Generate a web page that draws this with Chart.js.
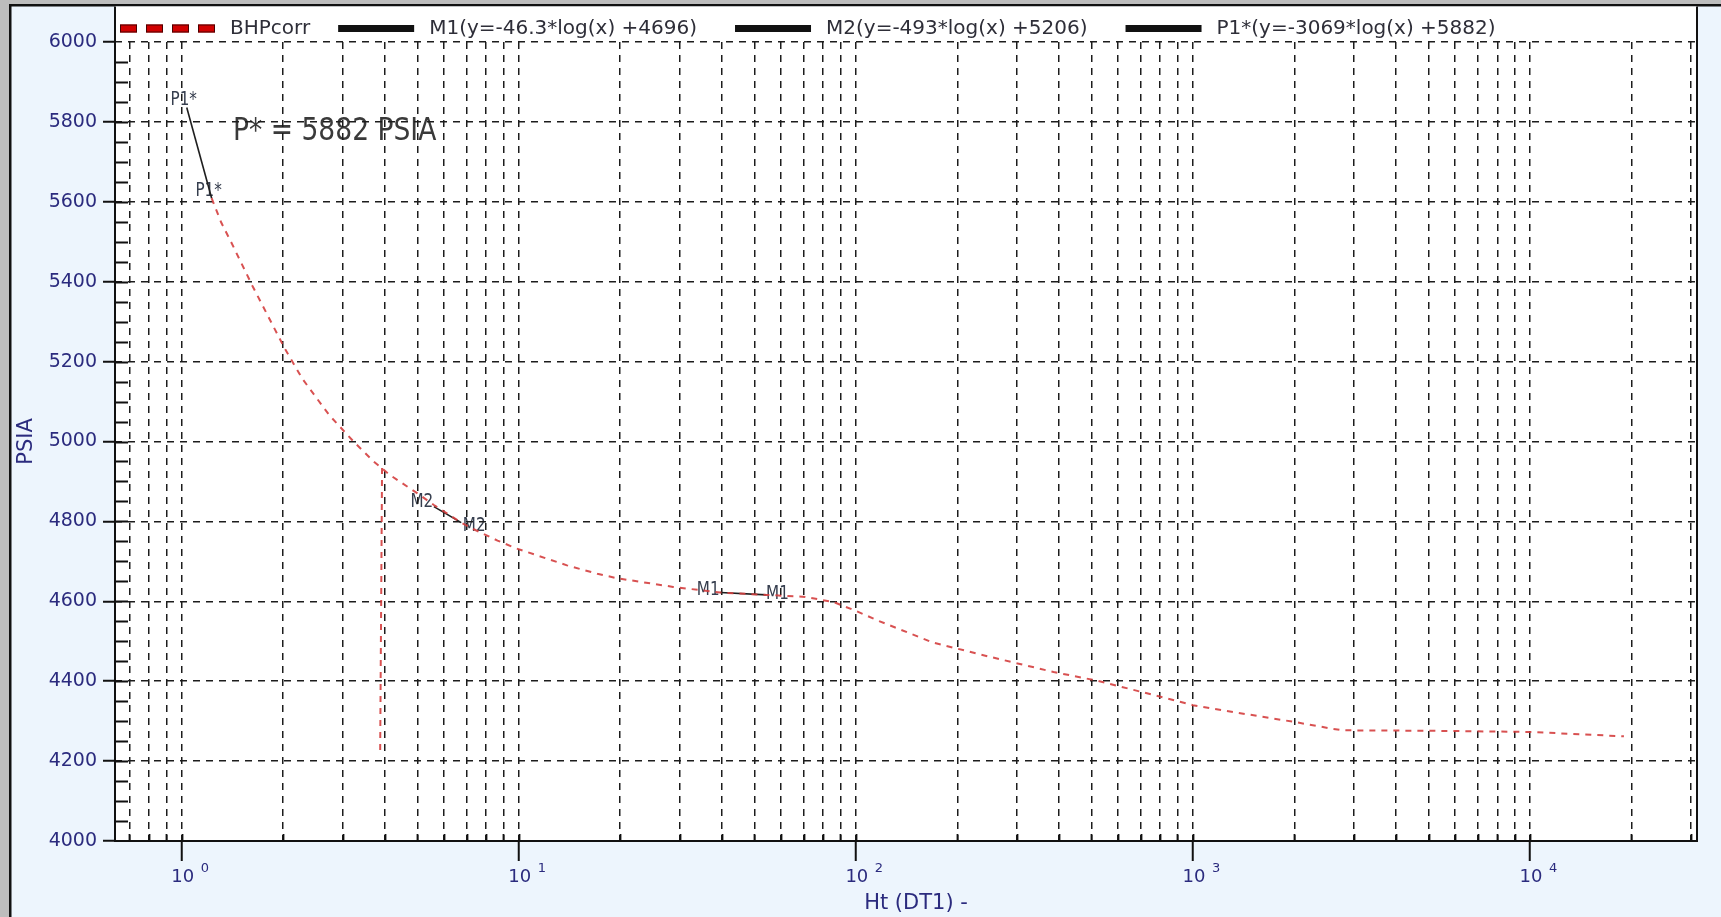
<!DOCTYPE html>
<html>
<head>
<meta charset="utf-8">
<title>Horner plot - BHPcorr</title>
<script src="https://cdn.jsdelivr.net/npm/chart.js@4/dist/chart.umd.min.js"></script>
<style>
  html, body { margin: 0; padding: 0; background: #edf5fd; overflow: hidden; }
  canvas { display: block; }
</style>
</head>
<body>
<canvas id="chart" width="1721" height="917"></canvas>
<script>
// Corrected bottom-hole pressure against Horner time (Ht)
const bhpHt   = [1.227, 1.31, 1.40, 1.62, 2.03, 2.28, 2.74, 3.25, 3.70, 3.95, 4.15, 5.13, 5.6, 6.75, 7.33, 8.65, 9.86, 13.9, 17.1, 19.5, 28.7, 39.6, 54.3, 70.8, 86, 100, 116, 169, 247, 386, 522, 760, 1000, 1228, 2000, 2590, 2800, 5000, 10000, 19000];
const bhpPsia = [5609, 5548, 5500, 5390, 5230, 5157, 5066, 4998, 4951, 4931, 4916, 4864, 4841, 4797, 4781, 4752, 4732, 4690, 4669, 4658, 4636, 4622, 4616, 4611, 4598, 4576, 4552, 4497, 4462, 4423, 4401, 4366, 4340, 4327, 4298, 4281, 4277, 4276, 4273, 4262];

// Pressure jump at the start of the shut-in
const shutInHt   = [3.88, 3.93];
const shutInPsia = [4228, 4935];

// Semi-log straight-line fits (end points of each drawn segment)
const m1Ht   = [39.6, 54.3];
const m1Psia = [4622, 4616];
const m2Ht   = [5.6, 6.75];
const m2Psia = [4837, 4797];
const p1Ht   = [1.035, 1.227];
const p1Psia = [5836, 5609];

const fitNames      = ['M1', 'M2', 'P1*'];
const fitSlopes     = [-46.3, -493, -3069];
const fitIntercepts = [4696, 5206, 5882];

// Axis ticks
const yTickValues      = [4000, 4200, 4400, 4600, 4800, 5000, 5200, 5400, 5600, 5800, 6000];
const xDecadeExponents = [0, 1, 2, 3, 4];
const xGridMultipliers = [1, 2, 3, 4, 5, 6, 7, 8, 9];
const xMin = 0.634, xMax = 31300;

// ---- styling ----
const FONT  = "'DejaVu Sans', sans-serif";
const NAVY  = '#2b2b7e';
const PANEL = '#edf5fd';
const GRID  = '#1c1c1c';
const INK   = '#111111';

const pStar = fitIntercepts[2];

const toPts = (xs, ys) => xs.map((x, i) => ({ x: x, y: ys[i] }));
const fitLabel = i => fitNames[i] + '(y=' + fitSlopes[i] + '*log(x) +' + fitIntercepts[i] + ')';
const isDecade = v => v > 0 && Math.abs(Math.log10(v) - Math.round(Math.log10(v))) < 1e-9;

const xGridValues = [];
for (let e = -1; e <= 4; e++) {
  xGridMultipliers.forEach(m => {
    const v = m * Math.pow(10, e);
    if (v >= xMin && v <= xMax) xGridValues.push(v);
  });
}

// label placement around each fit segment end (pixel offsets of the text centre)
const endLabelOffsets = {
  'M1':  [[-12, -2], [11, -1]],
  'M2':  [[-12, -5], [13, 3]],
  'P1*': [[-3, -7], [-3, -7]]
};
const legendGaps = [28, 38, 38, 0];

function drawScaledText(ctx, text, cx, cy, size, sx, color) {
  ctx.save();
  ctx.font = size + 'px ' + FONT;
  ctx.fillStyle = color;
  ctx.textAlign = 'center';
  ctx.textBaseline = 'middle';
  ctx.translate(cx, cy);
  ctx.scale(sx, 1);
  ctx.fillText(text, 0, 0);
  ctx.restore();
}

const framePlugin = {
  id: 'frame',
  beforeDraw(chart) {
    const { ctx, chartArea: a, width, height } = chart;
    const xs = chart.scales.x, ys = chart.scales.y;
    ctx.save();
    // window panel and edges
    ctx.fillStyle = PANEL;
    ctx.fillRect(0, 0, width, height);
    ctx.fillStyle = '#bdbdbd';
    ctx.fillRect(0, 0, width, 4);
    ctx.fillRect(0, 0, 9, height);
    ctx.fillStyle = INK;
    ctx.fillRect(9, 4, width - 9, 2.5);
    ctx.fillRect(9, 4, 2.5, height - 4);
    // white plotting box (extends above the top tick to hold the legend)
    ctx.fillStyle = '#ffffff';
    ctx.fillRect(a.left, 6.5, a.right - a.left, a.bottom - 6.5);

    // P* annotation
    ctx.save();
    ctx.font = '32px ' + FONT;
    ctx.fillStyle = '#3a3a3a';
    ctx.textAlign = 'left';
    ctx.textBaseline = 'alphabetic';
    ctx.translate(a.left + 118, a.top + 98);
    ctx.scale(0.83, 1);
    ctx.fillText('P* = ' + pStar + ' PSIA', 0, 0);
    ctx.restore();

    // names at both ends of every fit segment
    chart.data.datasets.forEach(ds => {
      if (!ds.fitName) return;
      const offs = endLabelOffsets[ds.fitName];
      [0, ds.data.length - 1].forEach((idx, k) => {
        const p = ds.data[idx];
        const px = xs.getPixelForValue(p.x), py = ys.getPixelForValue(p.y);
        drawScaledText(ctx, ds.fitName, px + offs[k][0], py + offs[k][1], 19, 0.8, '#363e4e');
      });
    });
    ctx.restore();
  },
  afterDraw(chart) {
    const { ctx, chartArea: a } = chart;
    const xs = chart.scales.x, ys = chart.scales.y;
    ctx.save();
    ctx.strokeStyle = INK;
    ctx.lineWidth = 2;
    ctx.beginPath();
    ctx.moveTo(a.left, 6.5); ctx.lineTo(a.left, a.bottom + 1);
    ctx.moveTo(a.left - 1, a.bottom); ctx.lineTo(a.right + 1, a.bottom);
    ctx.moveTo(a.right, 6.5); ctx.lineTo(a.right, a.bottom + 1);
    ctx.stroke();

    // inner minor ticks
    ctx.lineWidth = 1.8;
    ctx.beginPath();
    for (let v = yTickValues[0] + 50; v < yTickValues[yTickValues.length - 1]; v += 50) {
      const py = Math.round(ys.getPixelForValue(v)) + 0.5;
      ctx.moveTo(a.left, py); ctx.lineTo(a.left + 13, py);
    }
    xGridValues.forEach(v => {
      const px = Math.round(xs.getPixelForValue(v)) + 0.5;
      ctx.moveTo(px, a.bottom); ctx.lineTo(px, a.bottom - 7);
    });
    ctx.stroke();

    // decade labels 10^n
    ctx.fillStyle = NAVY;
    ctx.textBaseline = 'alphabetic';
    xDecadeExponents.forEach(e => {
      const px = xs.getPixelForValue(Math.pow(10, e));
      ctx.font = '18px ' + FONT;
      ctx.textAlign = 'center';
      ctx.fillText('10', px + 1, a.bottom + 41);
      ctx.font = '13px ' + FONT;
      ctx.textAlign = 'left';
      ctx.fillText(String(e), px + 19, a.bottom + 31);
    });

    // axis title under the decade labels
    ctx.font = '21px ' + FONT;
    ctx.textAlign = 'center';
    ctx.textBaseline = 'middle';
    ctx.fillText('Ht (DT1) -', (a.left + a.right) / 2 + 10, a.bottom + 63);

    // legend across the top of the plotting box
    const ly = 28.5;
    let lx = a.left + 5;
    ctx.font = '20px ' + FONT;
    ctx.textBaseline = 'middle';
    ctx.textAlign = 'left';
    chart.data.datasets.forEach((ds, i) => {
      let sw;
      if (ds.borderDash && ds.borderDash.length) {
        sw = 95;
        ctx.lineWidth = 1;
        for (let k = 0; k < 4; k++) {
          ctx.fillStyle = '#d10000';
          ctx.fillRect(lx + k * 26, ly - 4, 17, 8);
          ctx.strokeStyle = '#4a0000';
          ctx.strokeRect(lx + k * 26 + 0.5, ly - 3.5, 16, 7);
        }
      } else {
        sw = 76;
        ctx.fillStyle = INK;
        ctx.fillRect(lx, ly - 3.5, sw, 7);
      }
      const tx = lx + sw + 15;
      ctx.fillStyle = '#2e2e38';
      ctx.fillText(ds.label, tx, ly);
      lx = tx + ctx.measureText(ds.label).width + legendGaps[i];
    });
    ctx.restore();
  }
};

const bhpData = toPts(bhpHt, bhpPsia)
  .concat([{ x: shutInHt[1], y: null }])
  .concat(toPts(shutInHt, shutInPsia));

const fitStyle = { borderColor: '#1e1e1e', borderWidth: 1.6, pointRadius: 0, tension: 0, fill: false };

new Chart(document.getElementById('chart'), {
  type: 'line',
  data: {
    datasets: [
      { label: 'BHPcorr', data: bhpData, borderColor: 'rgba(212,62,62,0.9)', borderWidth: 2,
        borderDash: [6, 6], pointRadius: 0, tension: 0, spanGaps: false, fill: false },
      Object.assign({ label: fitLabel(0), fitName: fitNames[0], data: toPts(m1Ht, m1Psia) }, fitStyle),
      Object.assign({ label: fitLabel(1), fitName: fitNames[1], data: toPts(m2Ht, m2Psia) }, fitStyle),
      Object.assign({ label: fitLabel(2), fitName: fitNames[2], data: toPts(p1Ht, p1Psia) }, fitStyle)
    ]
  },
  options: {
    responsive: false,
    animation: false,
    devicePixelRatio: 1,
    layout: { padding: { left: 0, top: 42, right: 24, bottom: 0 } },
    plugins: { legend: { display: false }, tooltip: { enabled: false } },
    scales: {
      x: {
        type: 'logarithmic',
        bounds: 'data',
        min: xMin,
        max: xMax,
        afterBuildTicks: s => {
          s.min = xMin; s.max = xMax;
          s.ticks = xGridValues.map(v => ({ value: v, major: isDecade(v) }));
        },
        afterFit: s => { s.height = 76; },
        ticks: { display: false },
        grid: {
          color: GRID, lineWidth: 1.5, drawTicks: true, tickLength: 20, tickWidth: 2,
          tickColor: c => (c.tick && isDecade(c.tick.value)) ? INK : 'rgba(0,0,0,0)'
        },
        border: { display: false, dash: [7, 6] },
        title: { display: false }
      },
      y: {
        type: 'linear',
        min: yTickValues[0],
        max: yTickValues[yTickValues.length - 1],
        afterBuildTicks: s => { s.ticks = yTickValues.map(v => ({ value: v })); },
        afterFit: s => { s.width = 115; },
        ticks: { color: NAVY, font: { family: FONT, size: 19 }, padding: 6, callback: v => String(v) },
        grid: { color: GRID, lineWidth: 1.5, drawTicks: true, tickLength: 12, tickWidth: 2, tickColor: INK },
        border: { display: false, dash: [7, 6] },
        title: { display: true, text: 'PSIA', color: NAVY, font: { family: FONT, size: 21 }, padding: { top: 14, bottom: 0 } }
      }
    }
  },
  plugins: [framePlugin]
});
</script>
</body>
</html>
